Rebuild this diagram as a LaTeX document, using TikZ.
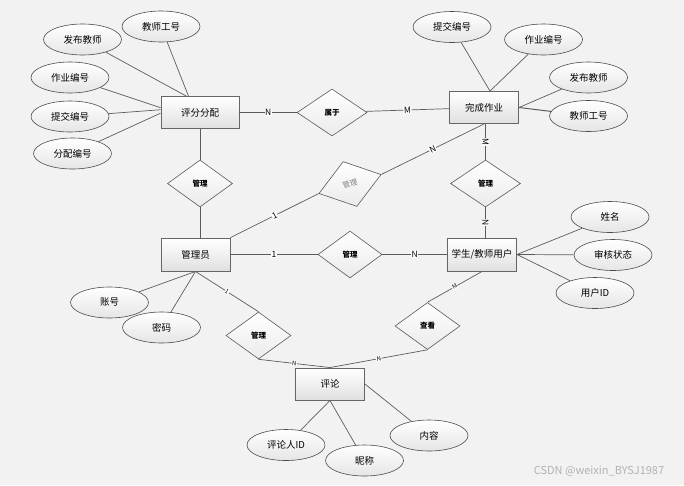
\documentclass[tikz,border=0pt]{standalone}
\usepackage{fontspec}
\setmainfont{Noto Sans CJK SC}
\usepackage{xcolor}
\usetikzlibrary{shapes.geometric}
\definecolor{bgcol}{HTML}{F2F2F2}
\definecolor{linecol}{HTML}{5C5C5C}

\tikzset{
  entity/.style={rectangle, draw=black!60, line width=0.9pt, minimum width=69pt, minimum height=32pt,
    inner sep=0pt, top color=white, bottom color=black!12, font=\fontsize{9.5}{10}\selectfont},
  attr/.style={ellipse, draw=black!70, line width=0.6pt, minimum width=78pt, minimum height=31pt,
    inner sep=0pt, top color=white, bottom color=black!10, font=\fontsize{9.5}{10}\selectfont},
  rel/.style={diamond, draw=black!65, line width=0.6pt, minimum width=65pt, minimum height=47pt,
    inner sep=0pt, top color=white, bottom color=black!8, font=\fontsize{7.5}{8}\selectfont\bfseries},
  link/.style={draw=linecol, line width=0.7pt},
  card/.style={fill=white, inner sep=0.5pt, sloped, font=\fontsize{8.5}{9}\selectfont},
  smallcard/.style={card, font=\fontsize{6}{7}\selectfont},
}

\begin{document}
\begin{tikzpicture}[x=1pt,y=-1pt]

\fill[bgcol] (0,0) rectangle (684,485);
\useasboundingbox (0,0) rectangle (684,485);

%entities
\node[entity, minimum width=78pt] (pf) at (200,112.5) {评分分配};
\node[entity] (wc) at (484,107.5) {完成作业};
\node[entity, minimum height=33pt] (gly) at (195.5,254.5) {管理员};
\node[entity, minimum height=33pt] (yh) at (482,254.5) {学生/教师用户};
\node[entity] (pl) at (330,384) {评论};

%relations
\node[rel, minimum width=70pt] (sy) at (332,112.5) {属于};
\node[rel] (d1) at (200,183.5) {管理};
\node[rel, minimum width=70pt] (d2) at (485.5,183.5) {管理};
\node[rel] (d3) at (350,184) [rotate=17, font=\fontsize{7.5}{8}\selectfont, text=black!50] {管理};
\node[rel, minimum width=64pt] (d4) at (350,254.5) {管理};
\node[rel] (d5) at (258.5,335.5) {管理};
\node[rel] (d6) at (427.5,326) {查看};

%attributes
\node[attr] (fb1) at (82.5,39.5) {发布教师};
\node[attr] (gh1) at (161,26.5) {教师工号};
\node[attr] (zy1) at (70,77.5) {作业编号};
\node[attr] (tj1) at (70,116.5) {提交编号};
\node[attr] (fp) at (72.5,153.5) {分配编号};

\node[attr] (tj2) at (452,27) {提交编号};
\node[attr] (zy2) at (543.5,39.5) {作业编号};
\node[attr] (fb2) at (588.5,77.5) {发布教师};
\node[attr] (gh2) at (588.5,116) {教师工号};

\node[attr] (xm) at (610,217) {姓名};
\node[attr] (sh) at (613,255) {审核状态};
\node[attr] (yhid) at (595,293) {用户ID};

\node[attr] (zh) at (109.5,302.5) {账号};
\node[attr] (mm) at (161.5,327.5) {密码};

\node[attr] (plr) at (286,445) {评论人ID};
\node[attr] (nc) at (364.5,460.5) {昵称};
\node[attr] (nr) at (429,435.5) {内容};

%attribute lines
\draw[link] (fb1) -- (pf.130);
\draw[link] (gh1) -- (pf.125);
\draw[link] (zy1) -- (pf.173);
\draw[link] (tj1) -- (pf.176);
\draw[link] (fp) -- (pf.181);

\draw[link] (tj2) -- (wc.70);
\draw[link] (zy2) -- (wc.70);
\draw[link] (fb2) -- (wc.east);
\draw[link, line width=1pt] (gh2) -- (wc.east);

\draw[link] (xm) -- (yh.east);
\draw[link] (sh) -- (yh.east);
\draw[link] (yhid) -- (yh.east);

\draw[link] (zh) -- (gly.south);
\draw[link] (mm) -- (gly.south);

\draw[link] (plr) -- (pl.south);
\draw[link] (nc) -- (pl.south);
\draw[link] (nr) -- (pl.east);

%relation lines
\draw[link] (pf) -- node[card]{N} (sy);
\draw[link] (sy) -- node[card]{M} (wc);
\draw[link] (pf.south) -- (d1.north);
\draw[link] (d1.south) -- (d1.south |- gly.north);
\draw[link] (wc.south -| d2.north) -- node[card]{M} (d2.north);
\draw[link] (d2.south) -- node[card]{N} (d2.south |- yh.north);
\draw[link] (gly.north east) -- node[card]{1} (d3.west);
\draw[link] (d3.east) -- node[card]{N} (wc.south);
\draw[link] (gly) -- node[card]{1} (d4);
\draw[link] (d4) -- node[card]{N} (yh);
\draw[link] (gly.south) -- node[smallcard]{1} (d5.north);
\draw[link] (d5.south) -- node[smallcard]{N} (pl.north);
\draw[link] (d6.south) -- node[smallcard]{N} (pl.north);
\draw[link] (yh.south) -- node[smallcard]{M} (d6.north);

\node[text=black!30, font=\fontsize{11}{12}\selectfont] (wm) at (599,471) {CSDN @weixin\_BYSJ1987};

\end{tikzpicture}
\end{document}
